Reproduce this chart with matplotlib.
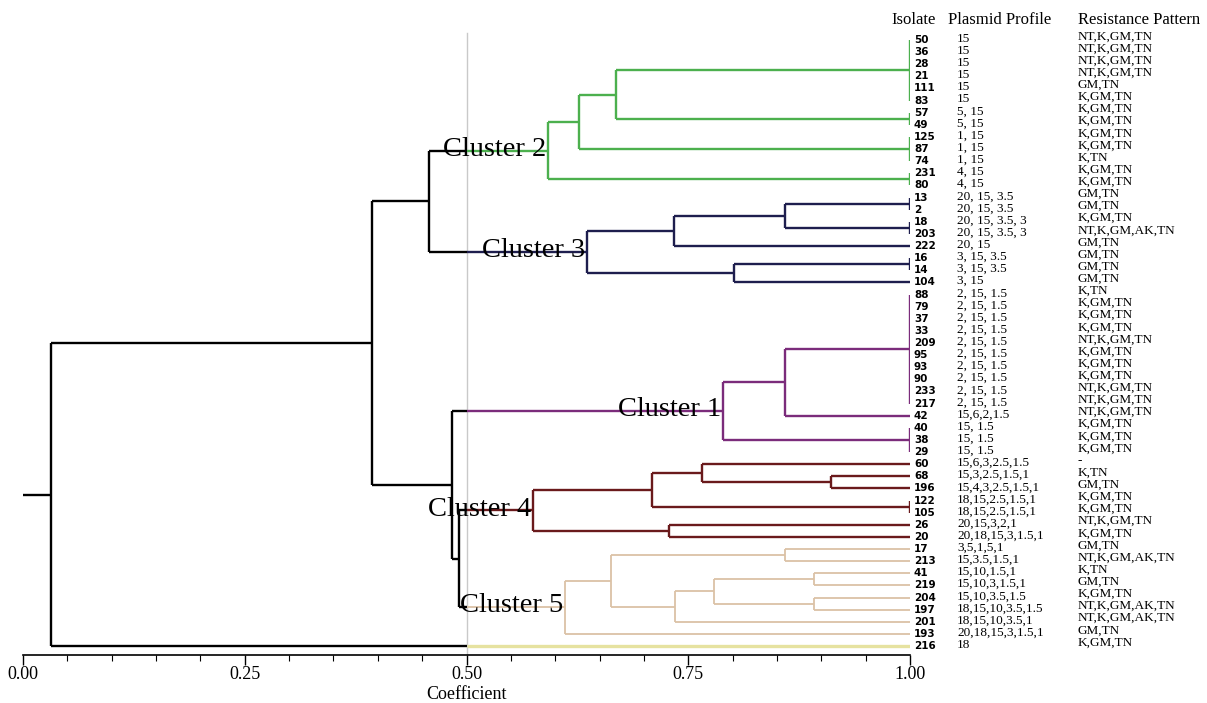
import matplotlib
matplotlib.use("Agg")
import matplotlib.pyplot as plt
import numpy as np

# ---------------- data ----------------
isolates = ['50', '36', '28', '21', '111', '83', '57', '49', '125', '87', '74', '231', '80',
            '13', '2', '18', '203', '222', '16', '14', '104',
            '88', '79', '37', '33', '209', '95', '93', '90', '233', '217', '42', '40', '38', '29',
            '60', '68', '196', '122', '105', '26', '20',
            '17', '213', '41', '219', '204', '197', '201', '193',
            '216']

plasmid_profile = ['15', '15', '15', '15', '15', '15', '5, 15', '5, 15', '1, 15', '1, 15', '1, 15',
                   '4, 15', '4, 15',
                   '20, 15, 3.5', '20, 15, 3.5', '20, 15, 3.5, 3', '20, 15, 3.5, 3', '20, 15',
                   '3, 15, 3.5', '3, 15, 3.5', '3, 15',
                   '2, 15, 1.5', '2, 15, 1.5', '2, 15, 1.5', '2, 15, 1.5', '2, 15, 1.5', '2, 15, 1.5',
                   '2, 15, 1.5', '2, 15, 1.5', '2, 15, 1.5', '2, 15, 1.5', '15,6,2,1.5',
                   '15, 1.5', '15, 1.5', '15, 1.5',
                   '15,6,3,2.5,1.5', '15,3,2.5,1.5,1', '15,4,3,2.5,1.5,1', '18,15,2.5,1.5,1',
                   '18,15,2.5,1.5,1', '20,15,3,2,1', '20,18,15,3,1.5,1',
                   '3,5,1,5,1', '15,3.5,1.5,1', '15,10,1.5,1', '15,10,3,1.5,1', '15,10,3.5,1.5',
                   '18,15,10,3.5,1.5', '18,15,10,3.5,1', '20,18,15,3,1.5,1',
                   '18']

resistance_pattern = ['NT,K,GM,TN', 'NT,K,GM,TN', 'NT,K,GM,TN', 'NT,K,GM,TN', 'GM,TN', 'K,GM,TN',
                      'K,GM,TN', 'K,GM,TN', 'K,GM,TN', 'K,GM,TN', 'K,TN', 'K,GM,TN', 'K,GM,TN',
                      'GM,TN', 'GM,TN', 'K,GM,TN', 'NT,K,GM,AK,TN', 'GM,TN', 'GM,TN', 'GM,TN', 'GM,TN',
                      'K,TN', 'K,GM,TN', 'K,GM,TN', 'K,GM,TN', 'NT,K,GM,TN', 'K,GM,TN', 'K,GM,TN',
                      'K,GM,TN', 'NT,K,GM,TN', 'NT,K,GM,TN', 'NT,K,GM,TN', 'K,GM,TN', 'K,GM,TN',
                      'K,GM,TN',
                      '-', 'K,TN', 'GM,TN', 'K,GM,TN', 'K,GM,TN', 'NT,K,GM,TN', 'K,GM,TN',
                      'GM,TN', 'NT,K,GM,AK,TN', 'K,TN', 'GM,TN', 'K,GM,TN', 'NT,K,GM,AK,TN',
                      'NT,K,GM,AK,TN', 'GM,TN',
                      'K,GM,TN']

# trees: (merge coefficient, child, child, ...); leaves are isolate names
cluster2_tree = (0.592, (0.627, (0.6685, (1.0, '50', '36', '28', '21', '111', '83'), (1.0, '57', '49')),
                         (1.0, '125', '87', '74')),
                 (1.0, '231', '80'))
cluster3_tree = (0.6355, (0.734, (0.859, (1.0, '13', '2'), (1.0, '18', '203')), '222'),
                 (0.8016, (1.0, '16', '14'), '104'))
cluster1_tree = (0.7895, (0.859, (1.0, '88', '79', '37', '33', '209', '95', '93', '90', '233', '217'), '42'),
                 (1.0, '40', '38', '29'))
cluster4_tree = (0.5746, (0.7095, (0.766, '60', (0.911, '68', '196')), (1.0, '122', '105')),
                 (0.7287, '26', '20'))
cluster5_tree = (0.611, (0.6626, (0.859, '17', '213'),
                         (0.735, (0.779, (0.892, '41', '219'), (0.892, '204', '197')), '201')),
                 '193')
top_tree = (0.0316, (0.394, (0.458, 'Cluster 2', 'Cluster 3'),
                     (0.484, 'Cluster 1', (0.4915, 'Cluster 4', 'Cluster 5'))),
            '216')

clusters = {'Cluster 1': cluster1_tree, 'Cluster 2': cluster2_tree, 'Cluster 3': cluster3_tree,
            'Cluster 4': cluster4_tree, 'Cluster 5': cluster5_tree}
cluster_colors = {'Cluster 1': '#7b2c7b', 'Cluster 2': '#4cb04e', 'Cluster 3': '#1e1e4e',
                  'Cluster 4': '#6a1a1c', 'Cluster 5': '#dbc2a6'}
leaf_colors = {'216': '#e6e2a0'}
line_widths = {'black': 1.7, '#dbc2a6': 1.3, '#e6e2a0': 2.4}

ticks_major = [0.0, 0.25, 0.5, 0.75, 1.0]
tick_labels = ['0.00', '0.25', '0.50', '0.75', '1.00']

# ---------------- drawing ----------------
SERIF = ['Liberation Serif', 'DejaVu Serif']
fig = plt.figure(figsize=(12.07, 7.03), dpi=100)
ax = fig.add_axes([23 / 1207, 48 / 703, 887 / 1207, 655 / 703])
ax.set_xlim(0, 1)
ax.set_ylim(50.74, -3.30)

cluster_label_pos = []


def lw_of(c):
    return line_widths.get(c, 1.7)


def draw(node, color):
    if isinstance(node, str):
        if node in clusters:
            c = cluster_colors[node]
            y, h, _ = draw(clusters[node], c)
            cluster_label_pos.append((node, y, h))
            return y, h, c
        return isolates.index(node), 1.0, leaf_colors.get(node, color)
    h = node[0]
    res = [draw(ch, color) for ch in node[1:]]
    ys = [r[0] for r in res]
    ax.plot([h, h], [min(ys), max(ys)], color=color, lw=lw_of(color), solid_capstyle='butt', zorder=3)
    for y, hc, cc in res:
        if cc == color:
            if hc > h:
                ax.plot([h, hc], [y, y], color=color, lw=lw_of(color), solid_capstyle='butt', zorder=3)
        else:
            ax.plot([h, 0.5], [y, y], color=color, lw=lw_of(color), solid_capstyle='butt', zorder=3)
            ax.plot([0.5, hc], [y, y], color=cc, lw=lw_of(cc), solid_capstyle='butt', zorder=3)
    return float(np.mean(ys)), h, color


root_y, root_h, _ = draw(top_tree, 'black')
ax.plot([0, root_h], [root_y, root_y], color='black', lw=1.7, solid_capstyle='butt')

# reference line at 0.50
ax.plot([0.5, 0.5], [-0.58, 50.74], color='#c9c9c9', lw=1.0, zorder=1)

for name, y, h in cluster_label_pos:
    ax.text(h - 0.002, y + 0.42, name, ha='right', va='baseline', fontsize=20.5,
            family=SERIF, color='black', zorder=4)

# leaf labels and side columns
for i, name in enumerate(isolates):
    ax.text(1.0045, i, name, ha='left', va='center', fontsize=7.5, fontweight='bold',
            family='DejaVu Sans', clip_on=False)
    ax.text(1.053, i - 0.1, plasmid_profile[i], ha='left', va='center', fontsize=9.5,
            family=SERIF, clip_on=False)
    ax.text(1.189, i - 0.3, resistance_pattern[i], ha='left', va='center', fontsize=9.5,
            family=SERIF, clip_on=False)

ax.text(0.979, -1.65, 'Isolate', ha='left', va='center', fontsize=12, family=SERIF, clip_on=False)
ax.text(1.043, -1.65, 'Plasmid Profile', ha='left', va='center', fontsize=12, family=SERIF, clip_on=False)
ax.text(1.189, -1.65, 'Resistance Pattern', ha='left', va='center', fontsize=12, family=SERIF, clip_on=False)

# axes styling
for s in ['left', 'right', 'top']:
    ax.spines[s].set_visible(False)
ax.spines['bottom'].set_linewidth(1.2)
ax.set_yticks([])
ax.set_xticks(ticks_major)
ax.set_xticklabels(tick_labels, family=SERIF, fontsize=13)
ax.set_xticks(np.arange(0, 1.0001, 0.05), minor=True)
ax.tick_params(axis='x', which='major', length=7, width=1.0, pad=1)
ax.tick_params(axis='x', which='minor', length=4, width=0.8)
ax.set_xlabel('Coefficient', family=SERIF, fontsize=13, labelpad=2)

fig.savefig('out.png', dpi=100)
